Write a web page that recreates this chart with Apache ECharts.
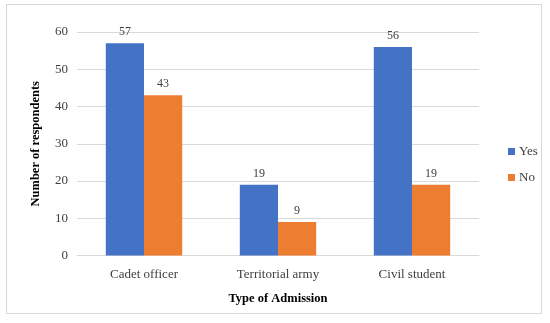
<!DOCTYPE html>
<html><head><meta charset="utf-8">
<script src="https://cdn.jsdelivr.net/npm/echarts@6/dist/echarts.min.js"></script>
<style>
html,body{margin:0;padding:0;background:#fff;}
#frame{position:absolute;left:6px;top:4px;width:536px;height:310px;border:1px solid #d9d9d9;box-sizing:border-box;}
#c{position:absolute;left:0;top:0;width:550px;height:323px;}
</style></head>
<body>
<div id="frame"></div>
<div id="c"></div>
<script>
const categories = ['Cadet officer', 'Territorial army', 'Civil student'];
const yesValues = [57, 19, 56];
const noValues = [43, 9, 19];
const yTicks = [0, 10, 20, 30, 40, 50, 60];

const font = 'Liberation Serif';
const chart = echarts.init(document.getElementById('c'), null, {renderer: 'canvas'});
chart.setOption({
  animation: false,
  textStyle: {fontFamily: font},
  grid: {left: 77, right: 71, top: 32, bottom: 67.5, containLabel: false},
  legend: {
    orient: 'vertical', left: 503, top: 140, itemWidth: 7, itemHeight: 7, itemGap: 13,
    icon: 'rect',
    textStyle: {fontFamily: font, fontSize: 13, color: '#404040', padding: [0,0,0,-1]},
    data: ['Yes', 'No']
  },
  xAxis: {
    type: 'category', data: categories,
    name: 'Type of Admission', nameLocation: 'middle', nameGap: 37,
    nameTextStyle: {fontFamily: font, fontWeight: 'bold', fontSize: 12.5, color: '#000'},
    axisLine: {lineStyle: {color: '#d9d9d9'}},
    axisTick: {show: false},
    axisLabel: {fontFamily: font, fontSize: 13, color: '#404040', margin: 13}
  },
  yAxis: {
    type: 'value', min: yTicks[0], max: yTicks[yTicks.length-1], interval: 10,
    name: 'Number of respondents', nameLocation: 'middle', nameGap: 35,
    nameTextStyle: {fontFamily: font, fontWeight: 'bold', fontSize: 12.5, color: '#000'},
    axisLine: {show: false}, axisTick: {show: false},
    splitLine: {lineStyle: {color: '#d9d9d9'}},
    axisLabel: {fontFamily: font, fontSize: 13, color: '#404040', margin: 9}
  },
  series: [
    {name: 'Yes', type: 'bar', data: yesValues, barGap: '0%', barCategoryGap: '43%',
     itemStyle: {color: '#4472C4'},
     label: {show: true, position: 'top', distance: 5, fontFamily: font, fontSize: 12, color: '#404040'}},
    {name: 'No', type: 'bar', data: noValues, barGap: '0%', barCategoryGap: '43%',
     itemStyle: {color: '#ED7D31'},
     label: {show: true, position: 'top', distance: 5, fontFamily: font, fontSize: 12, color: '#404040'}}
  ]
});
</script>
</body></html>
